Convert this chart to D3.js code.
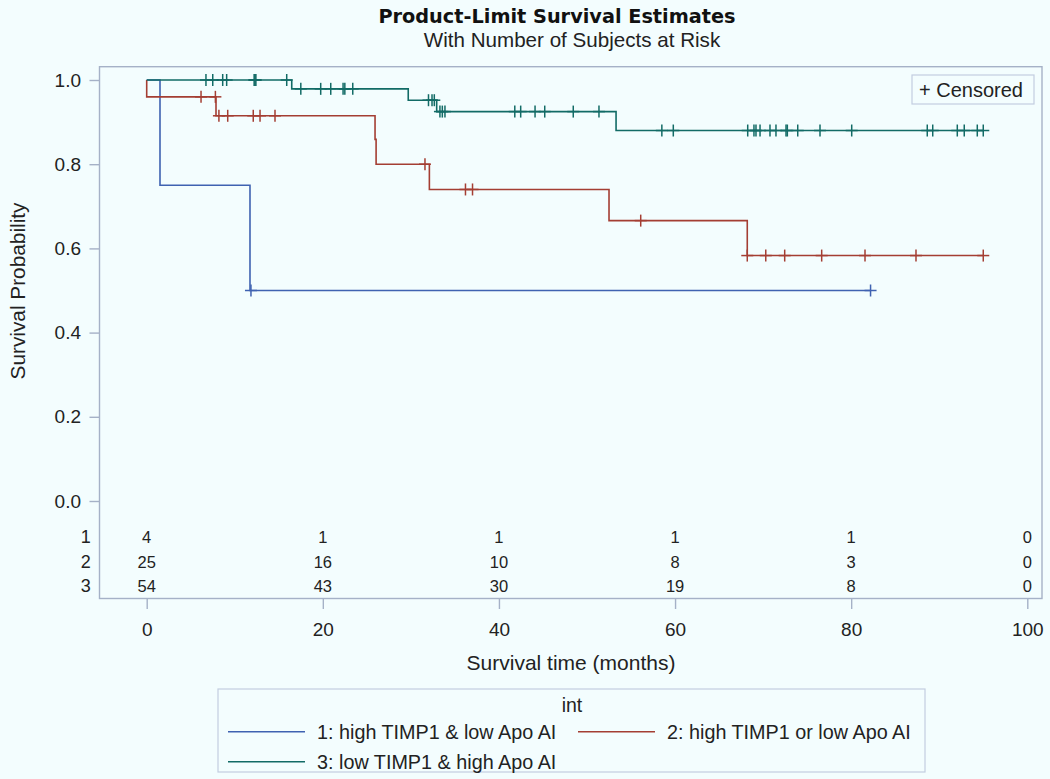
<!DOCTYPE html>
<html>
<head>
<meta charset="utf-8">
<script src="https://cdn.jsdelivr.net/npm/d3@7"></script>
<style>
  html, body { margin: 0; padding: 0; background: #f3fdfe; }
  svg { display: block; }
  text { font-family: "Liberation Sans", Arial, sans-serif; fill: #222; }
</style>
</head>
<body>
<svg id="chart" width="1050" height="779"></svg>
<script>
// ---------------- DATA ----------------
const titleText = "Product-Limit Survival Estimates";
const subtitleText = "With Number of Subjects at Risk";
const xLabel = "Survival time (months)";
const yLabel = "Survival Probability";
const legendTitle = "int";
const censorLabel = "+ Censored";

const groupIds = ["1", "2", "3"];
const groupNames = ["1: high TIMP1 & low Apo AI", "2: high TIMP1 or low Apo AI", "3: low TIMP1 & high Apo AI"];

// step functions (time of each step, survival after that step)
const stepTimes1 = [0, 1.51, 11.73];
const stepSurv1  = [1.0, 0.75, 0.50];
const endTime1 = 82.2;
const censor1 = [11.84, 82.2];

const stepTimes2 = [0, 0, 7.87, 25.93, 26.05, 32.1, 52.5, 68.2];
const stepSurv2  = [1.0, 0.96, 0.915, 0.859, 0.80, 0.740, 0.666, 0.583];
const endTime2 = 95.0;
const censor2 = [6.17, 7.8, 8.2, 9.2, 12.1, 12.87, 14.57, 31.6, 36.2, 37.0, 56.1,
                 68.2, 70.3, 72.45, 76.65, 81.57, 87.36, 95.0];

const stepTimes3 = [0, 16.47, 29.7, 32.93, 53.3];
const stepSurv3  = [1.0, 0.979, 0.952, 0.925, 0.880];
const endTime3 = 95.0;
const censor3 = [6.73, 7.5, 8.63, 9.08, 12.2, 12.3, 12.4, 15.9,
                 17.5, 19.76, 20.9, 22.3, 22.5, 23.4,
                 32.0, 32.4, 32.66,
                 33.3, 33.57, 33.87, 41.8, 42.47, 44.1, 45.2, 48.44, 51.36,
                 58.5, 59.8, 68.25, 68.96, 69.19, 69.65, 70.78, 71.46, 72.6, 72.75, 73.93,
                 76.46, 80.06, 88.64, 89.26, 92.05, 92.84, 94.32, 95.0];

const riskTimes = [0, 20, 40, 60, 80, 100];
const atRisk1 = [4, 1, 1, 1, 1, 0];
const atRisk2 = [25, 16, 10, 8, 3, 0];
const atRisk3 = [54, 43, 30, 19, 8, 0];

const xTicks = [0, 20, 40, 60, 80, 100];
const yTicks = [0.0, 0.2, 0.4, 0.6, 0.8, 1.0];

// ---------------- STYLE / LAYOUT ----------------
const colors = ["#3f62b1", "#a43e33", "#126b66"];
const frameColor = "#a5b1c7";
const frame = {x0: 99.5, x1: 1042, y0: 66.7, y1: 598.5};

const svg = d3.select("#chart");
const x = d3.scaleLinear().domain([0, 100]).range([146.7, 1027.3]);
const y = d3.scaleLinear().domain([0, 1]).range([501, 80]);

// titles
svg.append("text").attr("x", 557).attr("y", 23)
  .attr("text-anchor", "middle")
  .style("font-family", "'DejaVu Sans', sans-serif")
  .style("font-weight", "bold").style("font-size", "19.3px").style("fill", "#111")
  .text(titleText);
svg.append("text").attr("x", 572).attr("y", 46.5)
  .attr("text-anchor", "middle").style("font-size", "20.6px")
  .text(subtitleText);

// frame
svg.append("rect")
  .attr("x", frame.x0).attr("y", frame.y0)
  .attr("width", frame.x1 - frame.x0).attr("height", frame.y1 - frame.y0)
  .attr("fill", "none").attr("stroke", frameColor).attr("stroke-width", 1.4);

// y axis
const yAxis = svg.append("g").attr("transform", `translate(${frame.x0},0)`)
  .call(d3.axisLeft(y).tickValues(yTicks).tickFormat(d3.format(".1f")).tickSize(10).tickPadding(8.5));
yAxis.select(".domain").remove();
yAxis.selectAll("line").attr("stroke", frameColor).attr("stroke-width", 1.4);
yAxis.selectAll("text").style("font-size", "19px").style("font-family", "'Liberation Sans', Arial, sans-serif").attr("fill", "#222");

// x axis
const xAxis = svg.append("g").attr("transform", `translate(0,${frame.y1})`)
  .call(d3.axisBottom(x).tickValues(xTicks).tickFormat(d3.format("d")).tickSize(10.5).tickPadding(13.5));
xAxis.select(".domain").remove();
xAxis.selectAll("line").attr("stroke", frameColor).attr("stroke-width", 1.4);
xAxis.selectAll("text").style("font-size", "19px").style("font-family", "'Liberation Sans', Arial, sans-serif").attr("fill", "#222");

// axis labels
svg.append("text")
  .attr("transform", "translate(17,291) rotate(-90)")
  .attr("text-anchor", "middle").attr("dominant-baseline", "central")
  .style("font-size", "20.8px").text(yLabel);
svg.append("text").attr("x", 571).attr("y", 662)
  .attr("text-anchor", "middle").attr("dominant-baseline", "central")
  .style("font-size", "21px").text(xLabel);

// curves
const groups = [
  {times: stepTimes1, surv: stepSurv1, end: endTime1, cens: censor1},
  {times: stepTimes2, surv: stepSurv2, end: endTime2, cens: censor2},
  {times: stepTimes3, surv: stepSurv3, end: endTime3, cens: censor3}
];
const line = d3.line().x(d => x(d[0])).y(d => y(d[1])).curve(d3.curveStepAfter);
function survAt(g, t) {
  let s = g.surv[0];
  for (let i = 0; i < g.times.length; i++) if (g.times[i] <= t) s = g.surv[i];
  return s;
}
const plot = svg.append("g");
groups.forEach((g, gi) => {
  const pts = g.times.map((t, i) => [t, g.surv[i]]);
  pts.push([g.end, g.surv[g.surv.length - 1]]);
  plot.append("path").attr("d", line(pts))
    .attr("fill", "none").attr("stroke", colors[gi]).attr("stroke-width", 1.6);
  const cg = plot.append("g").attr("stroke", colors[gi]).attr("stroke-width", 1.5);
  g.cens.forEach(t => {
    const cx = x(t), cy = y(survAt(g, t));
    cg.append("line").attr("x1", cx).attr("x2", cx).attr("y1", cy - 6).attr("y2", cy + 6);
    cg.append("line").attr("x1", cx - 6).attr("x2", cx + 6).attr("y1", cy).attr("y2", cy);
  });
});

// censored legend box
svg.append("rect").attr("x", 912).attr("y", 75).attr("width", 122).attr("height", 29)
  .attr("fill", "none").attr("stroke", "#c3cde0").attr("stroke-width", 1.2);
svg.append("text").attr("x", 919).attr("y", 89.8).attr("dominant-baseline", "central")
  .style("font-size", "20px").text(censorLabel);

// at-risk table
const atRisk = [atRisk1, atRisk2, atRisk3];
const rowY = [536.7, 561.5, 586.2];
atRisk.forEach((vals, gi) => {
  svg.append("text").attr("x", 90.7).attr("y", rowY[gi])
    .attr("text-anchor", "end").attr("dominant-baseline", "central")
    .style("font-size", "18px").text(groupIds[gi]);
  vals.forEach((v, i) => {
    svg.append("text").attr("x", x(riskTimes[i])).attr("y", rowY[gi])
      .attr("text-anchor", "middle").attr("dominant-baseline", "central")
      .style("font-size", "16.5px").text(v);
  });
});

// bottom legend
svg.append("rect").attr("x", 218).attr("y", 689).attr("width", 707).attr("height", 83)
  .attr("fill", "none").attr("stroke", "#c3cde0").attr("stroke-width", 1.2);
svg.append("text").attr("x", 572).attr("y", 705)
  .attr("text-anchor", "middle").attr("dominant-baseline", "central")
  .style("font-size", "19.5px").text(legendTitle);
const legPos = [{lx: 228, ty: 731.7}, {lx: 578, ty: 731.7}, {lx: 228, ty: 761.7}];
legPos.forEach((p, gi) => {
  svg.append("line").attr("x1", p.lx).attr("x2", p.lx + 77)
    .attr("y1", p.ty).attr("y2", p.ty)
    .attr("stroke", colors[gi]).attr("stroke-width", 1.6);
  svg.append("text").attr("x", p.lx + 89).attr("y", p.ty)
    .attr("dominant-baseline", "central").style("font-size", "19.8px")
    .text(groupNames[gi]);
});
</script>
</body>
</html>
